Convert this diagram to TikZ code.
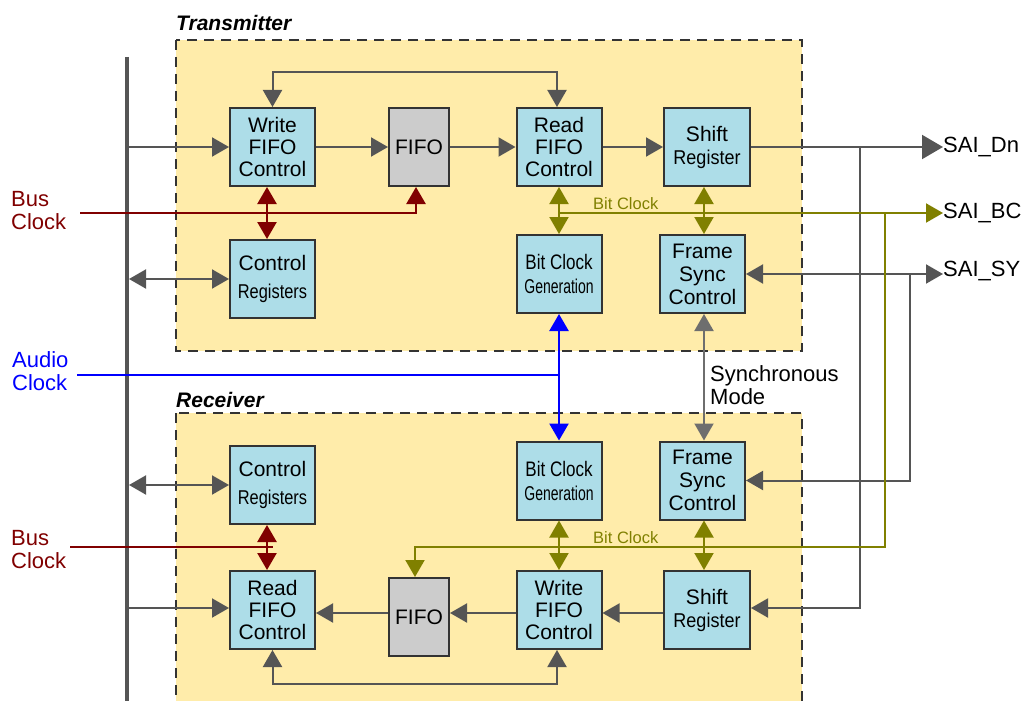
\documentclass[tikz,border=0pt]{standalone}
\usepackage{fontspec}
\usepackage{graphicx}
\setmainfont{Liberation Sans}
\usetikzlibrary{arrows.meta,calc}
\definecolor{boxblue}{HTML}{ADDDE8}
\definecolor{fifogray}{HTML}{CCCCCC}
\definecolor{panel}{HTML}{FFECAA}
\definecolor{edge}{HTML}{333333}
\definecolor{wire}{HTML}{555555}
\definecolor{syncgray}{HTML}{6E6E6E}
\definecolor{busred}{HTML}{800000}
\definecolor{bitolive}{HTML}{808000}
\definecolor{audioblue}{HTML}{0000FF}
\begin{document}
\begin{tikzpicture}[x=1pt,y=-1pt,
  blk/.style={draw=edge, line width=2pt, fill=boxblue, minimum width=85pt, minimum height=78pt, inner sep=0pt, align=center, font=\fontsize{21}{22}\selectfont},
  fifoblk/.style={blk, fill=fifogray, minimum width=60pt},
  panelbox/.style={draw=edge, line width=2pt, fill=panel, dash pattern=on 10pt off 7pt},
  lbl/.style={inner sep=0pt, align=left, font=\fontsize{22}{23}\selectfont},
  title/.style={inner sep=0pt, font=\fontsize{21}{22}\selectfont\bfseries\itshape},
  tipend/.style={-{Triangle[length=17pt,width=19pt]}},
  bigtip/.style={-{Triangle[length=21pt,width=24pt]}},
  tipboth/.style={{Triangle[length=17pt,width=19pt]}-{Triangle[length=17pt,width=19pt]}},
  wireline/.style={draw=wire, line width=2pt},
  redline/.style={draw=busred, line width=2.5pt},
  oliveline/.style={draw=bitolive, line width=2pt},
  blueline/.style={draw=audioblue, line width=2.5pt},
  syncline/.style={draw=syncgray, line width=2pt},
]
\useasboundingbox (0,0) rectangle (1023,701);
\clip (0,0) rectangle (1023,701);

% panels
\path[panelbox] (176,40) rectangle (802,351);
\path[panelbox] (176,413) rectangle (802,720);
\node[title, anchor=base west] (ttitle) at (176,31) {Transmitter};
\node[title, anchor=base west] (rtitle) at (176,407) {Receiver};

% bus bar
\coordinate (busTop) at (127,57);
\coordinate (busBot) at (127,705);
\draw[draw=wire, line width=4pt] (busTop) -- (busBot);

% transmitter blocks
\node[blk] (twfc) at (272.5,147) {Write\\FIFO\\Control};
\node[fifoblk] (tfifo) at (419,147) {FIFO};
\node[blk] (trfc) at (559,147) {Read\\FIFO\\Control};
\node[blk, minimum width=86pt, font=\fontsize{21}{23}\selectfont] (tsr) at (707,147) {Shift\\{\fontsize{20}{23}\selectfont\scalebox{0.9}[1]{Register}}};
\node[blk, font=\fontsize{21}{28}\selectfont] (tctrl) at (272.5,279) {Control\\{\fontsize{20}{28}\selectfont\scalebox{0.82}[1]{Registers}}};
\node[blk, font=\fontsize{21}{24}\selectfont] (tbcg) at (559,274) {\scalebox{0.81}[1]{Bit Clock}\\{\fontsize{20}{24}\selectfont\scalebox{0.7}[1]{Generation}}};
\node[blk, font=\fontsize{21}{23}\selectfont] (tfsc) at (702.5,274) {Frame\\Sync\\Control};

% receiver blocks
\node[blk, font=\fontsize{21}{28}\selectfont] (rctrl) at (272.5,485) {Control\\{\fontsize{20}{28}\selectfont\scalebox{0.82}[1]{Registers}}};
\node[blk, font=\fontsize{21}{24}\selectfont] (rbcg) at (559,480.5) {\scalebox{0.81}[1]{Bit Clock}\\{\fontsize{20}{24}\selectfont\scalebox{0.7}[1]{Generation}}};
\node[blk, font=\fontsize{21}{23}\selectfont] (rfsc) at (702.5,480.5) {Frame\\Sync\\Control};
\node[blk] (rrfc) at (272.5,610) {Read\\FIFO\\Control};
\node[fifoblk] (rfifo) at (419,617) {FIFO};
\node[blk] (rwfc) at (559,610) {Write\\FIFO\\Control};
\node[blk, minimum width=86pt, font=\fontsize{21}{23}\selectfont] (rsr) at (707,610) {Shift\\{\fontsize{20}{23}\selectfont\scalebox{0.9}[1]{Register}}};

% outside labels
\node[lbl, text=busred, anchor=west] (busclkT) at (11,211) {Bus\\Clock};
\node[lbl, text=audioblue, anchor=west] (audclk) at (12,371) {Audio\\Clock};
\node[lbl, text=busred, anchor=west] (busclkR) at (11,550) {Bus\\Clock};
\node[lbl, anchor=west] (syncmode) at (710,385) {Synchronous\\Mode};
\node[lbl, anchor=west] (saidn) at (943,147) {SAI\_Dn};
\node[lbl, anchor=west] (saibc) at (943,213) {SAI\_BC};
\node[lbl, anchor=west] (saisy) at (943,271) {SAI\_SY};
\node[inner sep=0pt, text=bitolive, font=\fontsize{16.5}{17}\selectfont, anchor=west] (bitlblT) at (593,204) {Bit Clock};
\node[inner sep=0pt, text=bitolive, font=\fontsize{16.5}{17}\selectfont, anchor=west] (bitlblR) at (593,538) {Bit Clock};

% helper coordinates
\coordinate (busA) at (129,147);
\coordinate (busB) at (129,279);
\coordinate (busC) at (129,485);
\coordinate (busD) at (129,608);
\coordinate (fbT) at (0,72);
\coordinate (fbR) at (0,684);
\coordinate (rowBitT) at (0,213);
\coordinate (rowBitR) at (0,547);
\coordinate (chainR) at (0,613);
\coordinate (bcT) at (80,213);
\coordinate (bcR) at (70,547);
\coordinate (acl) at (77,375);
\coordinate (vDn) at (860,0);
\coordinate (vBc) at (885,0);
\coordinate (vSy) at (910,0);

% transmitter data path
\draw[wireline, tipend] (busA) -- (busA -| twfc.west);
\draw[wireline, tipend] (twfc.east) -- (tfifo.west);
\draw[wireline, tipend] (tfifo.east) -- (trfc.west);
\draw[wireline, tipend] (trfc.east) -- (tsr.west);
\draw[wireline, bigtip] (tsr.east) -- (saidn.west);
\draw[wireline, tipboth] ([xshift=-2pt]trfc.north) |- (twfc.north |- fbT) -- (twfc.north);
\draw[wireline, tipboth] (busB) -- (busB -| tctrl.west);

% receiver data path
\draw[wireline, tipboth] (busC) -- (busC -| rctrl.west);
\draw[wireline, tipend] (busD) -- (busD -| rrfc.west);
\draw[wireline, tipend] (rsr.west |- chainR) -- (rwfc.east |- chainR);
\draw[wireline, tipend] (rwfc.west |- chainR) -- (rfifo.east |- chainR);
\draw[wireline, tipend] (rfifo.west |- chainR) -- (rrfc.east |- chainR);
\draw[wireline, tipboth] ([xshift=-2pt]rwfc.south) |- (rrfc.south |- fbR) -- (rrfc.south);

% external pins to receiver
\draw[wireline, tipend] (vDn |- tsr.east) |- (rsr.east |- busD);
\draw[wireline, tipboth] (tfsc.east) -- (tfsc.east -| saisy.west);
\draw[wireline, tipend] (vSy |- tfsc.east) |- (rfsc.east);

% bus clock
\draw[redline, tipend] (bcT) -| ([xshift=-3pt]tfifo.south);
\draw[redline, tipboth] ([xshift=-5.5pt]twfc.south) -- ([xshift=-5.5pt]tctrl.north);
\draw[redline, tipboth] ([xshift=-5.5pt]rctrl.south) -- ([xshift=-5.5pt]rrfc.north);
\draw[redline] (bcR) -- (bcR -| rrfc.north) ;

% audio clock
\draw[blueline] (acl) -- (acl -| tbcg.south);
\draw[blueline, tipboth] (tbcg.south) -- (rbcg.north);

% synchronous mode
\draw[syncline, tipboth] ([xshift=1.5pt]tfsc.south) -- ([xshift=1.5pt]rfsc.north);

% bit clock
\draw[oliveline, tipboth] (trfc.south) -- (tbcg.north);
\draw[oliveline, tipboth] ([xshift=-3pt]tsr.south) -- ([xshift=1.5pt]tfsc.north);
\draw[oliveline, tipend] (trfc.south |- rowBitT) -- (saibc.west |- rowBitT);
\draw[oliveline, tipend] (vBc |- rowBitT) |- (rfsc.south |- rowBitR) -| ([xshift=-4pt]rfifo.north);
\draw[oliveline, tipboth] (rbcg.south) -- (rwfc.north);
\draw[oliveline, tipboth] ([xshift=1.5pt]rfsc.south) -- ([xshift=-3pt]rsr.north);
\end{tikzpicture}
\end{document}
